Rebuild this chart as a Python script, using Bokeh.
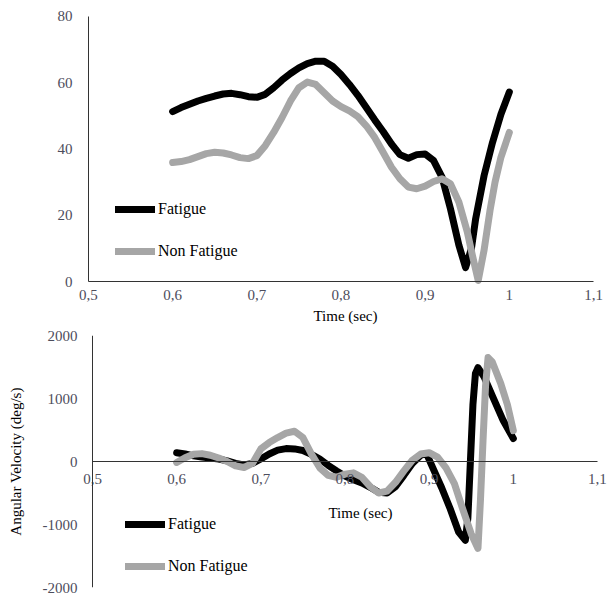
from bokeh.plotting import figure
from bokeh.models import Legend, LegendItem, FixedTicker, Label, Span
from bokeh.layouts import column
from bokeh.embed import file_html
from bokeh.resources import INLINE
import math

# ---------------- data ----------------
angle_fat_t = [0.600, 0.610, 0.620, 0.630, 0.640, 0.650, 0.660, 0.670, 0.680, 0.690,
               0.700, 0.710, 0.720, 0.730, 0.740, 0.750, 0.760, 0.770, 0.780, 0.790,
               0.800, 0.810, 0.820, 0.830, 0.840, 0.850, 0.860, 0.870, 0.880, 0.890,
               0.900, 0.910, 0.920, 0.930, 0.940, 0.948, 0.955, 0.960, 0.970, 0.980,
               0.990, 1.000]
angle_fat = [51.3, 52.5, 53.5, 54.5, 55.3, 56.0, 56.6, 56.8, 56.4, 55.8,
             55.6, 56.5, 58.5, 60.8, 62.8, 64.5, 65.8, 66.5, 66.5, 65.0,
             62.5, 59.5, 56.2, 52.5, 48.8, 45.3, 41.5, 38.3, 37.2, 38.3,
             38.5, 36.5, 31.5, 22.0, 11.0, 4.2, 10.0, 19.0, 32.0, 42.0,
             50.5, 57.2]

angle_non_t = [0.600, 0.610, 0.620, 0.630, 0.640, 0.650, 0.660, 0.670, 0.680, 0.690,
               0.700, 0.710, 0.720, 0.730, 0.740, 0.750, 0.760, 0.770, 0.780, 0.790,
               0.800, 0.810, 0.820, 0.830, 0.840, 0.850, 0.860, 0.870, 0.880, 0.890,
               0.900, 0.910, 0.920, 0.930, 0.940, 0.950, 0.956, 0.963, 0.970, 0.977,
               0.983, 0.990, 1.000]
angle_non = [35.9, 36.2, 36.8, 37.7, 38.6, 39.0, 38.8, 38.2, 37.4, 37.1,
             38.0, 41.0, 45.0, 49.5, 54.5, 58.5, 60.2, 59.5, 57.0, 54.5,
             52.8, 51.5, 49.8, 47.0, 43.5, 39.0, 34.5, 31.0, 28.5, 28.0,
             28.8, 30.2, 31.0, 29.5, 24.0, 15.0, 8.0, 0.3, 9.5, 21.4,
             30.0, 37.5, 45.0]

vel_fat_t = [0.600, 0.610, 0.620, 0.630, 0.640, 0.650, 0.660, 0.670, 0.680, 0.690,
             0.700, 0.710, 0.720, 0.730, 0.740, 0.750, 0.760, 0.770, 0.780, 0.790,
             0.800, 0.810, 0.820, 0.830, 0.840, 0.850, 0.860, 0.870, 0.880, 0.890,
             0.897, 0.905, 0.915, 0.925, 0.935, 0.943, 0.946, 0.949, 0.952, 0.955,
             0.958, 0.965, 0.976, 0.988, 1.000]
vel_fat = [140, 120, 90, 70, 55, 40, 10, -30, -55, -30,
           40, 120, 180, 205, 200, 175, 115, 40, -60, -150,
           -230, -290, -340, -410, -490, -500, -400, -220, -30, 100,
           120, -120, -420, -750, -1120, -1250, -900, 0, 900, 1400,
           1490, 1350, 1015, 650, 365]

vel_non_t = [0.600, 0.610, 0.620, 0.630, 0.640, 0.650, 0.660, 0.670, 0.680, 0.690,
             0.700, 0.710, 0.720, 0.730, 0.740, 0.750, 0.760, 0.770, 0.780, 0.790,
             0.800, 0.810, 0.820, 0.830, 0.840, 0.850, 0.860, 0.870, 0.880, 0.890,
             0.900, 0.910, 0.920, 0.930, 0.940, 0.950, 0.958, 0.961, 0.964, 0.967,
             0.970, 0.975, 0.985, 0.993, 1.000]
vel_non = [-15, 60, 115, 125, 100, 55, 0, -70, -95, -30,
           200, 300, 380, 450, 480, 380, 120, -100, -220, -250,
           -200, -180, -250, -400, -500, -470, -330, -150, 20, 120,
           140, 70, -100, -350, -760, -1150, -1380, -600, 330, 1200,
           1650, 1580, 1240, 900, 490]

x_ticks = [0.5, 0.6, 0.7, 0.8, 0.9, 1.0, 1.1]
x_tick_labels = ["0,5", "0,6", "0,7", "0,8", "0,9", "1", "1,1"]
angle_ticks = [0, 20, 40, 60, 80]
angle_tick_labels = ["0", "20", "40", "60", "80"]
vel_ticks = [-2000, -1000, 0, 1000, 2000]
vel_tick_labels = ["-2000", "-1000", "0", "1000", "2000"]
series_names = ["Fatigue", "Non Fatigue"]
x_cross = 0.5          # vertical axes cross the time axis at t = 0.5
x_axis_span = (0.5, 1.1)
angle_axis_span = (0, 80)

# ---------------- style ----------------
FONT = "Liberation Serif"
BLACK = "#000000"
GRAY = "#a6a6a6"
TICK_COLOR = "#4d4d5c"
AXIS_COLOR = "#333333"
LW = 7
# both figures share frame borders (the column aligns them): 41 px left, 2 px right


def style_axes(p, x_standoff, y_standoff):
    for ax in (p.xaxis[0], p.yaxis[0]):
        ax.major_tick_out = 0
        ax.major_tick_in = 0
        ax.minor_tick_out = 0
        ax.minor_tick_in = 0
        ax.axis_line_color = AXIS_COLOR
        ax.axis_line_width = 1
        ax.major_label_text_font = FONT
        ax.major_label_text_font_size = "15px"
        ax.major_label_text_color = TICK_COLOR
        ax.axis_label_text_font = FONT
        ax.axis_label_text_font_size = "15px"
        ax.axis_label_text_font_style = "normal"
        ax.axis_label_text_color = "#000000"
    p.xaxis[0].ticker = FixedTicker(ticks=x_ticks)
    p.xaxis[0].major_label_overrides = dict(zip(x_ticks, x_tick_labels))
    p.xaxis[0].major_label_standoff = x_standoff
    p.xaxis[0].bounds = x_axis_span
    p.xaxis[0].fixed_location = 0
    p.yaxis[0].major_label_standoff = y_standoff
    p.xgrid.visible = False
    p.ygrid.visible = False
    p.outline_line_color = None


def add_legend(p, r1, r2, loc):
    legend = Legend(items=[LegendItem(label=series_names[0], renderers=[r1]),
                           LegendItem(label=series_names[1], renderers=[r2])],
                    location=loc, orientation="vertical",
                    glyph_width=40, glyph_height=20, label_height=20,
                    label_standoff=3, spacing=22, padding=0, margin=0,
                    border_line_color=None, background_fill_alpha=0,
                    label_text_font=FONT, label_text_font_size="16px",
                    label_text_color="#000000")
    p.add_layout(legend, "center")


def label(p, text, x, y, vertical=False):
    p.add_layout(Label(x=x, y=y, x_units="screen", y_units="screen",
                       text=text, angle=(math.pi / 2 if vertical else 0),
                       text_align="center", text_baseline="middle",
                       text_font=FONT, text_font_size="15px",
                       text_color="#000000"))


# ---------------- top chart: angle ----------------
# frame covers the whole figure height so the axis labels stay inside it
p1 = figure(width=609, height=325, x_range=(0.4442, 1.1166),
            y_range=(-13.28, 84.83),
            output_backend="svg", toolbar_location=None,
            min_border_left=41, min_border_right=2, min_border_top=0,
            min_border_bottom=0)
p1.background_fill_color = "white"
p1.border_fill_color = "white"
style_axes(p1, 8, 16)
p1.yaxis[0].ticker = FixedTicker(ticks=angle_ticks)
p1.yaxis[0].major_label_overrides = dict(zip(angle_ticks, angle_tick_labels))
p1.yaxis[0].fixed_location = x_cross
p1.yaxis[0].bounds = angle_axis_span

ra1 = p1.line(angle_fat_t, angle_fat, line_color=BLACK, line_width=LW,
              line_cap="round", line_join="round")
ra2 = p1.line(angle_non_t, angle_non, line_color=GRAY, line_width=LW,
              line_cap="round", line_join="round")
add_legend(p1, ra1, ra2, (74, 64))
label(p1, "Angle (deg)", -14, 204, vertical=True)
label(p1, "Time (sec)", 304, 10)

# ---------------- bottom chart: angular velocity ----------------
p2 = figure(width=609, height=274, x_range=(0.4394, 1.1119), y_range=(-2000, 2000),
            output_backend="svg", toolbar_location=None,
            min_border_left=41, min_border_right=2, min_border_top=10,
            min_border_bottom=12)
p2.background_fill_color = "white"
p2.border_fill_color = "white"
style_axes(p2, 12, -36)
p2.yaxis[0].ticker = FixedTicker(ticks=vel_ticks)
p2.yaxis[0].major_label_overrides = dict(zip(vel_ticks, vel_tick_labels))
p2.yaxis[0].axis_line_color = None
p2.yaxis[0].axis_label = "Angular Velocity (deg/s)"
p2.yaxis[0].axis_label_standoff = 16
p2.add_layout(Span(location=x_cross, dimension="height",
                   line_color=AXIS_COLOR, line_width=1))

rv1 = p2.line(vel_fat_t, vel_fat, line_color=BLACK, line_width=LW,
              line_cap="round", line_join="round")
rv2 = p2.line(vel_non_t, vel_non, line_color=GRAY, line_width=LW,
              line_cap="round", line_join="round")
add_legend(p2, rv1, rv2, (84, 11))
label(p2, "Time (sec)", 319, 75)

layout = column(p1, p2, spacing=0)
open("out.html", "w").write(file_html(layout, INLINE))
